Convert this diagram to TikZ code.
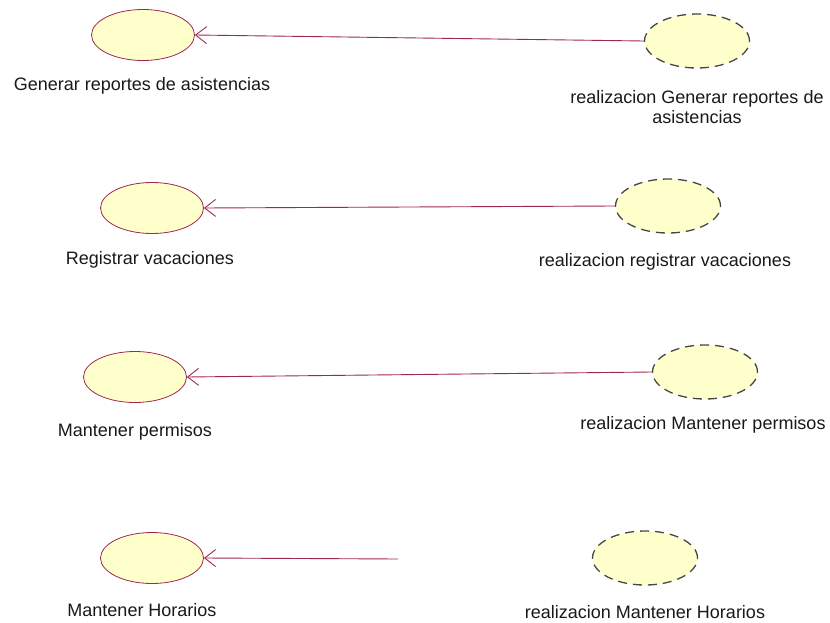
\documentclass[tikz,border=0pt]{standalone}
\usepackage{fontspec}
\setmainfont{Liberation Sans}
\usetikzlibrary{arrows.meta,shapes.geometric}
\definecolor{ucfill}{RGB}{255,255,204}
\definecolor{ucline}{RGB}{160,40,80}
\definecolor{dashline}{RGB}{70,70,70}
\tikzset{
  uc/.style={ellipse, draw=ucline, fill=ucfill, line width=0.8pt, minimum width=103pt, minimum height=51pt, inner sep=0pt},
  ucr/.style={ellipse, draw=dashline, fill=ucfill, line width=1.3pt, dash pattern=on 9pt off 6pt, minimum width=105pt, minimum height=54pt, inner sep=0pt},
  lbl/.style={font=\fontsize{18}{20}\selectfont, text=black!90, align=center, inner sep=0pt},
  rel/.style={draw=ucline, line width=0.9pt, -{Straight Barb[length=11pt, width=17pt, line width=0.9pt]}}
}
\begin{document}
\begin{tikzpicture}[x=1pt, y=-1pt]
\useasboundingbox (0,0) rectangle (830,623);
% row 1
\node[uc] (u1) at (143,35) {};
\node[ucr] (r1) at (697,41) {};
\node[lbl] (l1) at (142,86) {Generar reportes de asistencias};
\node[lbl] (m1) at (697,107) {realizacion Generar reportes de\\asistencias};
\draw[rel] (r1.west) -- (u1.east);
% row 2
\node[uc] (u2) at (152,208) {};
\node[ucr] (r2) at (668,206) {};
\node[lbl] (l2) at (150,260) {Registrar vacaciones};
\node[lbl] (m2) at (665,262) {realizacion registrar vacaciones};
\draw[rel] (r2.west) -- (u2.east);
% row 3
\node[uc] (u3) at (135,377) {};
\node[ucr] (r3) at (705,372) {};
\node[lbl] (l3) at (135,432) {Mantener permisos};
\node[lbl] (m3) at (703,425) {realizacion Mantener permisos};
\draw[rel] (r3.west) -- (u3.east);
% row 4
\node[uc] (u4) at (152,558) {};
\node[ucr] (r4) at (645,558) {};
\node[lbl] (l4) at (142,610) {Mantener Horarios};
\node[lbl] (m4) at (645,612) {realizacion Mantener Horarios};
\coordinate (e4) at (398,559);
\draw[rel] (e4) -- (u4.east);
\end{tikzpicture}
\end{document}
